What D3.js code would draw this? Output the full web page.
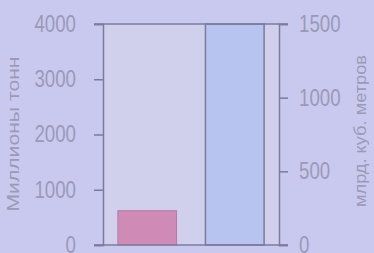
<html>
<script src="https://d3js.org/d3.v7.min.js"></script>
<style>
  body { margin: 0; background: #c9c9ef; }
</style>
<body>
<svg class="chart" width="374" height="253"></svg>
<script>
// bars: left one on the tonnes scale, right one on the cubic metres scale
var categories = ["тонны", "кубометры"];
var tonnes = [620];        // миллионы тонн
var cubicMetres = [1500];  // млрд. куб. метров
var leftTicks = [0, 1000, 2000, 3000, 4000];
var rightTicks = [0, 500, 1000, 1500];

var lineCol = "#7b7b9c", textCol = "#9a9ab6";
var svg = d3.select(".chart");

var x = d3.scaleBand().domain(categories).range([103, 279]).paddingInner(0.33).paddingOuter(0.17);
var yL = d3.scaleLinear().domain([0, 4000]).range([245, 24]);
var yR = d3.scaleLinear().domain([0, 1500]).range([245, 24]);

// plot area background
svg.append("rect")
  .attr("x", x.range()[0]).attr("y", yL(4000))
  .attr("width", x.range()[1] - x.range()[0]).attr("height", yL(0) - yL(4000))
  .attr("fill", "#d0d0ec");

// bars
svg.append("rect")
  .attr("x", x(categories[0])).attr("y", yL(tonnes[0]))
  .attr("width", x.bandwidth()).attr("height", yL(0) - yL(tonnes[0]))
  .attr("fill", "#cf8ab6").attr("stroke", "#b47aa8").attr("stroke-width", 1);

svg.append("rect")
  .attr("x", x(categories[1])).attr("y", yR(cubicMetres[0]))
  .attr("width", x.bandwidth()).attr("height", yR(0) - yR(cubicMetres[0]))
  .attr("fill", "#b8c4f0").attr("stroke", lineCol).attr("stroke-width", 1.5);

// axes
var axL = svg.append("g").attr("transform", "translate(" + x.range()[0] + ",0)")
  .call(d3.axisLeft(yL).tickValues(leftTicks).tickSize(9).tickPadding(18).tickFormat(d3.format("d")));
var axR = svg.append("g").attr("transform", "translate(" + x.range()[1] + ",0)")
  .call(d3.axisRight(yR).tickValues(rightTicks).tickSize(9).tickPadding(11).tickFormat(d3.format("d")));

[axL, axR].forEach(function(a) {
  a.select(".domain").attr("stroke", lineCol).attr("stroke-width", 1.5);
  a.selectAll(".tick line").attr("stroke", lineCol).attr("stroke-width", 1.5);
  // condensed digits like the original
  a.selectAll(".tick text").attr("fill", textCol).attr("font-size", 23)
    .attr("font-family", "Liberation Sans, sans-serif")
    .attr("textLength", function(d) { return String(d).length * 10.4; })
    .attr("lengthAdjust", "spacingAndGlyphs");
});

// frame top and bottom lines
[yL(4000), yL(0)].forEach(function(yy) {
  svg.append("line").attr("x1", x.range()[0] - 9).attr("x2", x.range()[1] + 9)
    .attr("y1", yy).attr("y2", yy).attr("stroke", lineCol).attr("stroke-width", 1.5);
});

// axis titles
svg.append("text")
  .attr("transform", "translate(19,134) rotate(-90)")
  .attr("text-anchor", "middle").attr("fill", textCol)
  .attr("font-family", "Liberation Sans, sans-serif").attr("font-size", 17)
  .attr("textLength", 155).attr("lengthAdjust", "spacingAndGlyphs")
  .text("Миллионы тонн");

svg.append("text")
  .attr("transform", "translate(366,131) rotate(-90)")
  .attr("text-anchor", "middle").attr("fill", textCol)
  .attr("font-family", "Liberation Sans, sans-serif").attr("font-size", 17)
  .attr("textLength", 152).attr("lengthAdjust", "spacingAndGlyphs")
  .text("млрд. куб. метров");
</script>
</body>
</html>
